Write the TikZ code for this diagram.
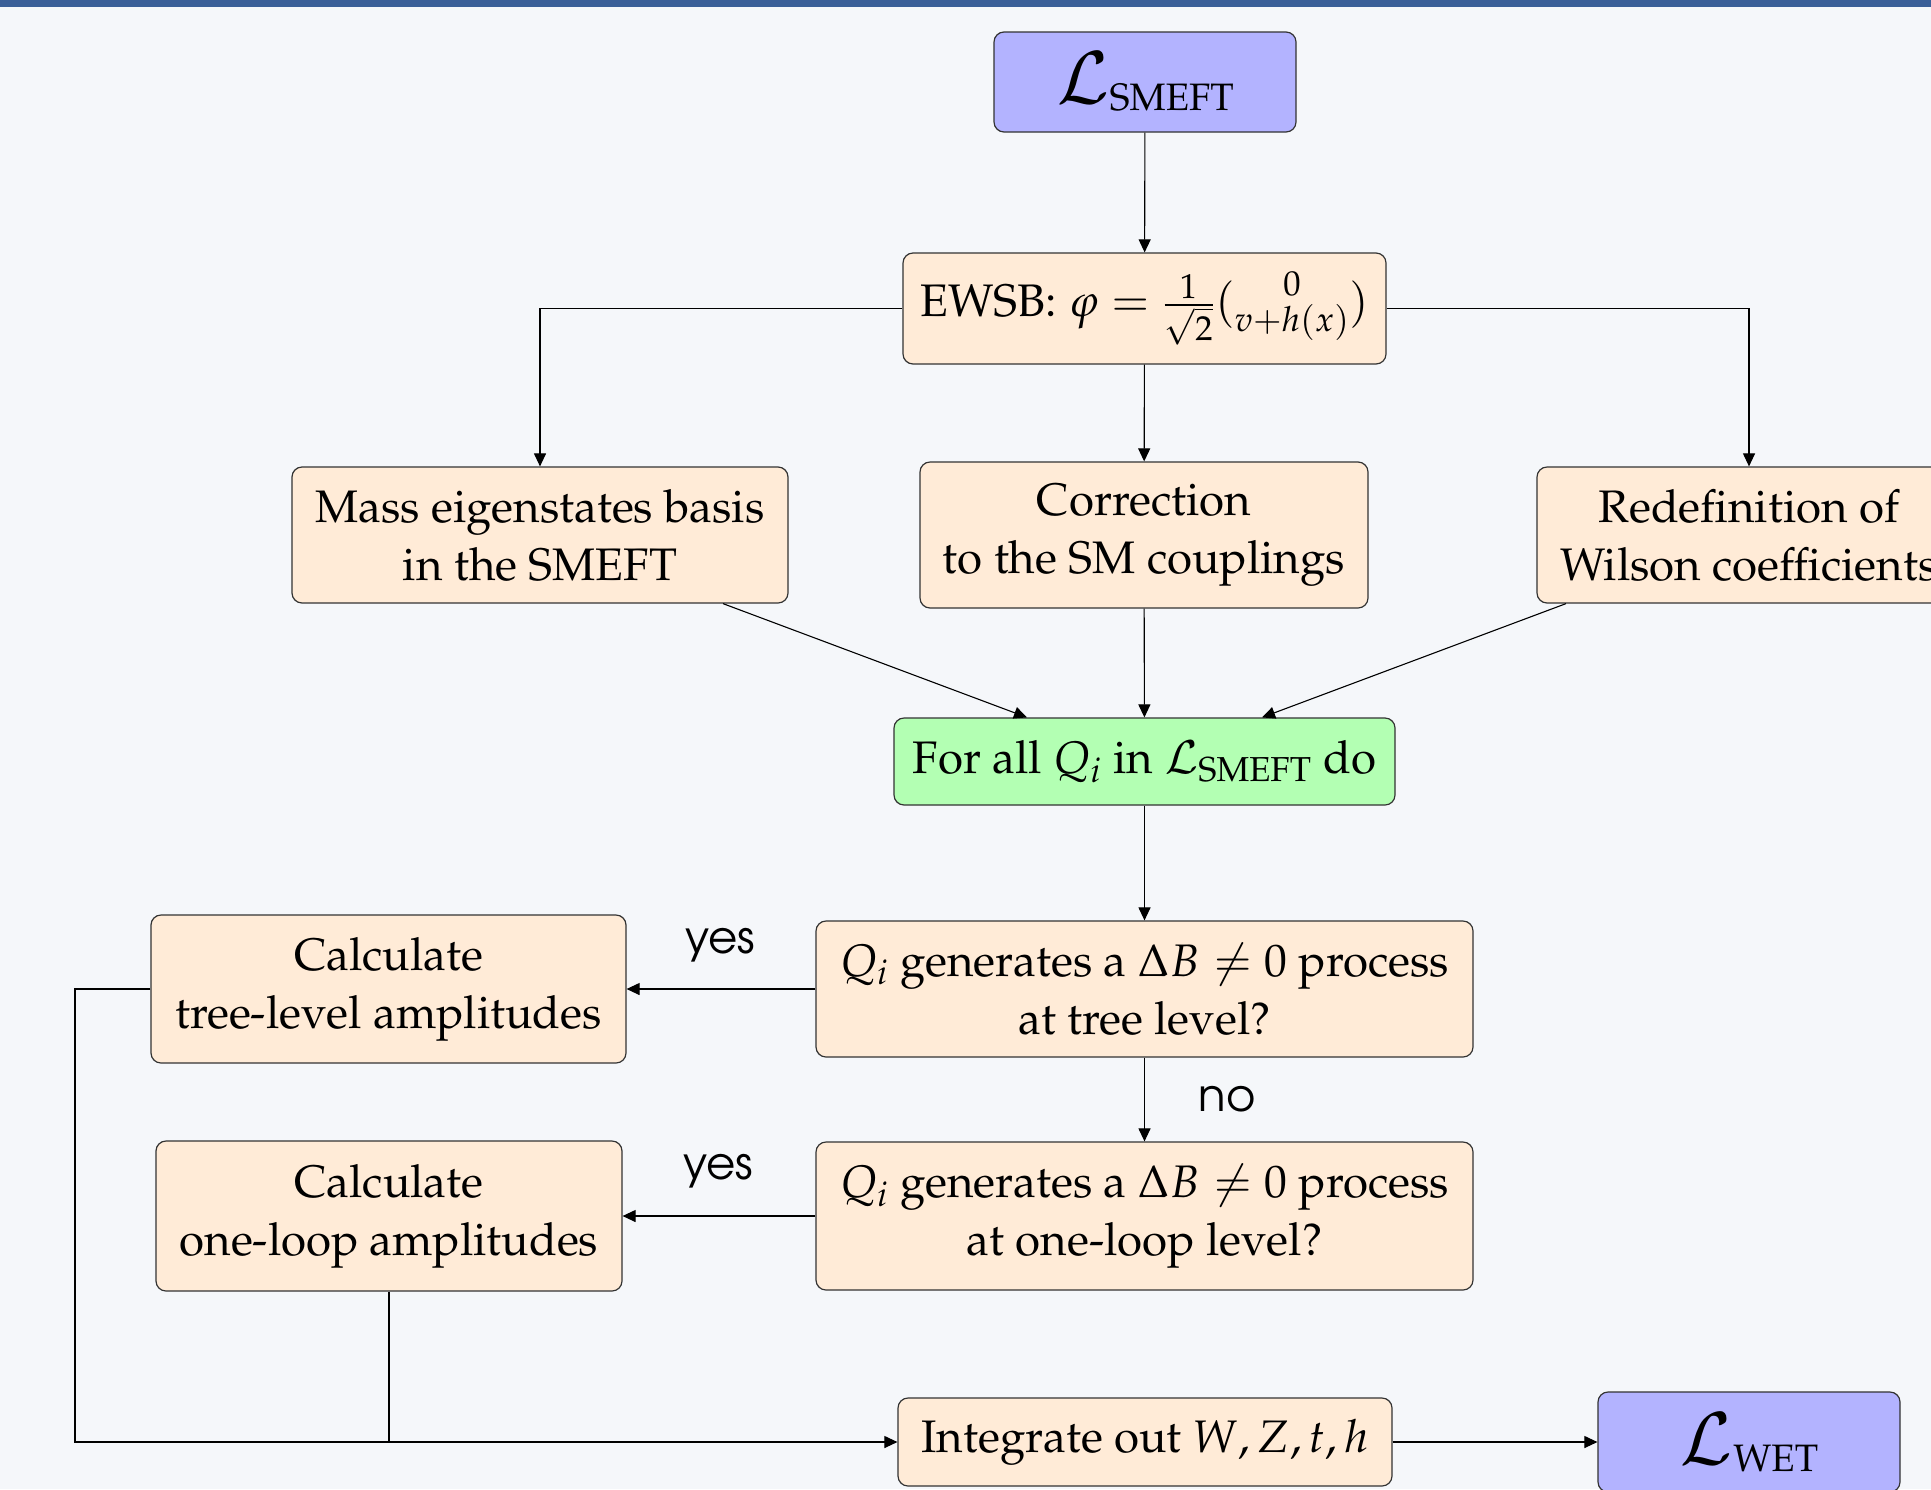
\documentclass[tikz,border=0pt]{standalone}
\usepackage[T1]{fontenc}
\usepackage{mathpazo}
\usepackage{amsmath}
\usetikzlibrary{arrows.meta}
\definecolor{bgc}{HTML}{F5F7FA}
\definecolor{barc}{HTML}{3A5F98}
\definecolor{obox}{HTML}{FFEBD7}
\definecolor{gbox}{HTML}{B3FFB3}
\definecolor{bbox}{HTML}{B3B3FF}
\definecolor{edgec}{HTML}{333333}
\newcommand{\biglag}[1]{{\fontsize{36}{38}\selectfont$\mathcal{L}$}\raisebox{-3.5pt}{\fontsize{19.1}{21}\selectfont #1}}
\begin{document}
\begin{tikzpicture}[x=0.5pt,y=-0.5pt,
  basebox/.style={draw=edgec, rounded corners=5pt, line width=0.6pt, align=center,
    inner sep=0pt, font=\fontsize{22.8}{29}\selectfont},
  orbox/.style={basebox, fill=obox},
  grbox/.style={basebox, fill=gbox},
  blbox/.style={basebox, fill=bbox},
  arr/.style={draw=black, line width=0.55pt, -{Triangle[length=6.5pt,width=6pt]}},
  ln/.style={draw=black, line width=0.55pt},
  lab/.style={font=\fontfamily{pag}\selectfont\fontsize{22.5}{27}\selectfont, inner sep=0pt}]
\useasboundingbox (0,0) rectangle (1931,1489);
\clip (0,0) rectangle (1931,1489);
\fill[bgc] (0,0) rectangle (1931,1489);
\fill[barc] (0,0) rectangle (1931,7);

\node[blbox, minimum width=151pt, minimum height=50pt] (top) at (1145,82)
  {\biglag{SMEFT}};
\node[orbox, minimum width=241.5pt, minimum height=55.5pt] (ewsb) at (1144.5,308.5)
  {EWSB: $\varphi=\tfrac{1}{\sqrt{2}}\tbinom{0}{v+h(x)}$};
\node[orbox, minimum width=248pt, minimum height=68pt] (mass) at (540,535)
  {Mass eigenstates basis\\in the SMEFT};
\node[orbox, minimum width=224pt, minimum height=73pt] (corr) at (1144,535)
  {Correction\\to the SM couplings};
\node[orbox, minimum width=212pt, minimum height=68pt] (redef) at (1749,535)
  {Redefinition of\\Wilson coefficients};
\node[grbox, minimum width=250.5pt, minimum height=43.5pt] (forall) at (1144.5,761.5)
  {For all $Q_i$ in $\mathcal{L}_{\text{SMEFT}}$ do};
\node[orbox, minimum width=328.5pt, minimum height=68pt] (qtree) at (1144.5,989)
  {$Q_i$ generates a $\Delta B\neq 0$ process\\at tree level?};
\node[orbox, minimum width=328.5pt, minimum height=74pt] (qloop) at (1144.5,1216)
  {$Q_i$ generates a $\Delta B\neq 0$ process\\at one-loop level?};
\node[orbox, minimum width=237.5pt, minimum height=74pt] (ctree) at (388.5,989)
  {Calculate\\tree-level amplitudes};
\node[orbox, minimum width=233pt, minimum height=75pt] (cloop) at (389,1216)
  {Calculate\\one-loop amplitudes};
\node[orbox, minimum width=247pt, minimum height=44pt] (integ) at (1145,1442)
  {Integrate out $W,Z,t,h$};
\node[blbox, minimum width=151pt, minimum height=50pt] (wet) at (1749,1442)
  {\biglag{WET}};

\node[lab] (yes1) at (720,945) {yes};
\node[lab] (yes2) at (718,1171) {yes};
\node[lab] (no1) at (1227,1099) {no};

\coordinate (cl) at (75,1442);

\draw[arr] (top) -- (ewsb);
\draw[arr] (ewsb.west) -| (mass.north);
\draw[arr] (ewsb.east) -| (redef.north);
\draw[arr] (ewsb) -- (corr);
\draw[arr] (mass) -- (forall);
\draw[arr] (corr) -- (forall);
\draw[arr] (redef) -- (forall);
\draw[arr] (forall) -- (qtree);
\draw[arr] (qtree) -- (ctree);
\draw[arr] (qtree) -- (qloop);
\draw[arr] (qloop) -- (cloop);
\draw[arr] (ctree.west) -| (cl) -- (integ.west);
\draw[ln] (cloop.south) -- (cloop.south |- integ.west);
\draw[arr] (integ) -- (wet);
\end{tikzpicture}
\end{document}
